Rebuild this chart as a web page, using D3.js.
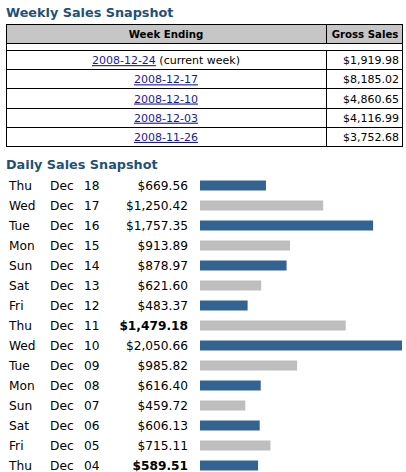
<!DOCTYPE html>
<html>
<head>
<meta charset="utf-8">
<script src="https://cdn.jsdelivr.net/npm/d3@7"></script>
<style>
  body { margin: 0; background: #fff; }
  svg text { font-family: "DejaVu Sans", Verdana, sans-serif; }
  .title { font-weight: bold; fill: #1f5078; font-size: 12.8px; }
  .cell { font-size: 11px; fill: #000; }
  .head { font-size: 10.2px; font-weight: bold; }
  .link { fill: #1a1aa0; text-decoration: underline; }
  .row { font-size: 12.2px; fill: #000; }
</style>
</head>
<body>
<script>
const width = 406;
const height = 472;

// weekly table
const weeks = ['2008-12-24', '2008-12-17', '2008-12-10', '2008-12-03', '2008-11-26'];
const weekSales = [1919.98, 8185.02, 4860.65, 4116.99, 3752.68];

// daily list
const days = ['Thu', 'Wed', 'Tue', 'Mon', 'Sun', 'Sat', 'Fri', 'Thu', 'Wed', 'Tue', 'Mon', 'Sun', 'Sat', 'Fri', 'Thu'];
const months = ['Dec', 'Dec', 'Dec', 'Dec', 'Dec', 'Dec', 'Dec', 'Dec', 'Dec', 'Dec', 'Dec', 'Dec', 'Dec', 'Dec', 'Dec'];
const dates = ['18', '17', '16', '15', '14', '13', '12', '11', '10', '09', '08', '07', '06', '05', '04'];
const dailySales = [669.56, 1250.42, 1757.35, 913.89, 878.97, 621.60, 483.37, 1479.18, 2050.66, 985.82, 616.40, 459.72, 606.13, 715.11, 589.51];
const boldDates = ['11', '04'];

const money = d3.format('$,.2f');

const svg = d3.select('body')
    .append('svg')
    .attr('width', width)
    .attr('height', height);

// ---- Weekly Sales Snapshot ----
svg.append('text')
    .attr('class', 'title')
    .attr('x', 6)
    .attr('y', 17)
    .text('Weekly Sales Snapshot');

const left = 6, right = 402, divider = 326;
const headTop = 24, headBottom = 43, gapBottom = 50;

const rowY = d3.scaleBand()
    .domain(weeks)
    .range([gapBottom, 146]);

const table = svg.append('g')
    .attr('shape-rendering', 'crispEdges');

table.append('rect')
    .attr('x', left + 0.5)
    .attr('y', headTop + 0.5)
    .attr('width', right - left)
    .attr('height', headBottom - headTop)
    .attr('fill', '#c6c6c6')
    .attr('stroke', '#000');

table.append('rect')
    .attr('x', left + 0.5)
    .attr('y', headBottom + 0.5)
    .attr('width', right - left)
    .attr('height', gapBottom - headBottom)
    .attr('fill', '#fff')
    .attr('stroke', '#000');

table.selectAll('rect.wrow')
    .data(weeks)
    .enter()
    .append('rect')
        .attr('class', 'wrow')
        .attr('x', left + 0.5)
        .attr('y', d => rowY(d) + 0.5)
        .attr('width', right - left)
        .attr('height', rowY.bandwidth())
        .attr('fill', '#fff')
        .attr('stroke', '#000');

table.append('line')
    .attr('x1', divider + 0.5).attr('x2', divider + 0.5)
    .attr('y1', headTop).attr('y2', headBottom)
    .attr('stroke', '#000');

table.append('line')
    .attr('x1', divider + 0.5).attr('x2', divider + 0.5)
    .attr('y1', gapBottom).attr('y2', 146)
    .attr('stroke', '#000');

svg.append('text')
    .attr('class', 'cell head')
    .attr('x', (left + divider) / 2)
    .attr('y', (headTop + headBottom) / 2 + 4)
    .attr('text-anchor', 'middle')
    .text('Week Ending');

svg.append('text')
    .attr('class', 'cell head')
    .attr('x', (divider + right) / 2 + 1)
    .attr('y', (headTop + headBottom) / 2 + 4)
    .attr('text-anchor', 'middle')
    .text('Gross Sales');

const weekLabel = svg.selectAll('text.week')
    .data(weeks)
    .enter()
    .append('text')
        .attr('class', 'cell week')
        .attr('x', (left + divider) / 2)
        .attr('y', d => rowY(d) + rowY.bandwidth() / 2 + 4.5)
        .attr('text-anchor', 'middle');

weekLabel.append('tspan')
    .attr('class', 'link')
    .text(d => d);

weekLabel.filter((d, i) => i === 0)
    .append('tspan')
    .text(' (current week)');

svg.selectAll('text.wsales')
    .data(weeks)
    .enter()
    .append('text')
        .attr('class', 'cell wsales')
        .attr('x', right - 3)
        .attr('y', d => rowY(d) + rowY.bandwidth() / 2 + 4.5)
        .attr('text-anchor', 'end')
        .text((d, i) => money(weekSales[i]));

// ---- Daily Sales Snapshot ----
svg.append('text')
    .attr('class', 'title')
    .attr('x', 6)
    .attr('y', 169)
    .text('Daily Sales Snapshot');

const y = d3.scaleBand()
    .domain(d3.range(dailySales.length))
    .range([175, 475]);

const x = d3.scaleLinear()
    .domain([0, d3.max(dailySales)])
    .range([200, 402]);

const rows = svg.selectAll('g.day')
    .data(dailySales)
    .enter()
    .append('g')
        .attr('class', 'day')
        .attr('transform', (d, i) => `translate(0, ${y(i) + y.bandwidth() / 2})`);

rows.append('text')
    .attr('class', 'row')
    .attr('x', 9)
    .attr('y', 5)
    .text((d, i) => days[i]);

rows.append('text')
    .attr('class', 'row')
    .attr('x', 50)
    .attr('y', 5)
    .text((d, i) => months[i]);

rows.append('text')
    .attr('class', 'row')
    .attr('x', 84)
    .attr('y', 5)
    .text((d, i) => dates[i]);

rows.append('text')
    .attr('class', 'row')
    .attr('x', 188)
    .attr('y', 5)
    .attr('text-anchor', 'end')
    .attr('font-weight', (d, i) => boldDates.includes(dates[i]) ? 'bold' : 'normal')
    .text(d => money(d));

rows.append('rect')
    .attr('x', x(0))
    .attr('y', -4.5)
    .attr('width', d => x(d) - x(0))
    .attr('height', 10)
    .attr('fill', (d, i) => i % 2 === 0 ? '#336491' : '#bebebe');
</script>
</body>
</html>
